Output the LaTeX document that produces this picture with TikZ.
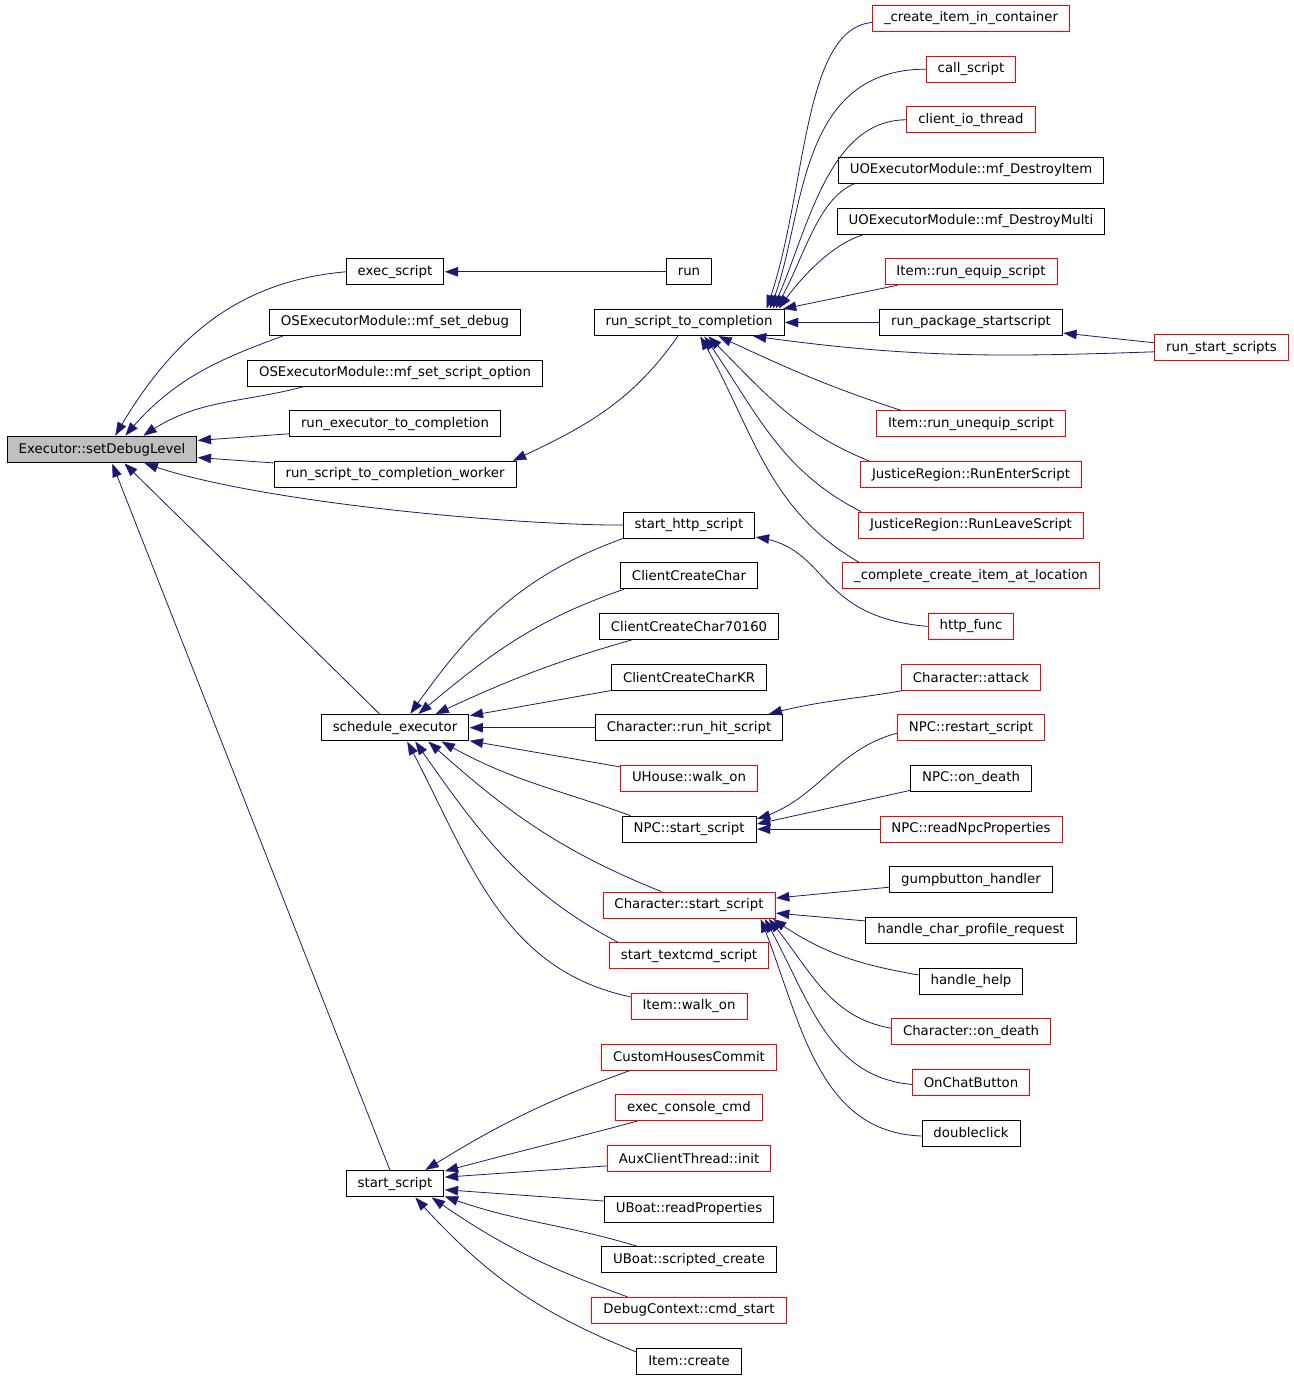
\documentclass[tikz,border=0pt]{standalone}
\usepackage{fontspec}
\setmainfont{DejaVu Sans}
\usepackage{tikz}
\usetikzlibrary{positioning, calc, arrows.meta, decorations.markings}
\definecolor{EdgeBlue}{HTML}{191970}
\definecolor{RootGrey}{HTML}{BFBFBF}
\definecolor{TruncRed}{HTML}{FF0000}
\tikzstyle{Call} = [
draw=EdgeBlue, line width=0.8pt,
decoration={
markings,
mark=at position 0.9999 with {
\arrow[color=EdgeBlue]{Triangle[length=14pt,width=10pt,color=EdgeBlue,fill=EdgeBlue]}}},
shorten >= 3pt, preaction = {decorate}]
\tikzstyle{Func} = [draw=black, fill=white, line width=0.9pt, minimum height=26pt,
inner xsep=11.5pt, inner ysep=0pt, font=\fontsize{13.3}{16}\selectfont]
\tikzstyle{Trunc} = [Func, draw=TruncRed]
\tikzstyle{Root} = [Func, fill=RootGrey]

\begin{document}
\begin{tikzpicture}[x=1pt, y=1pt]
    \path [use as bounding box, fill=white] (0,0) rectangle (1293,-1380);

    \node [Root](1) at (102,-449.5){Executor::setDebugLevel};
    \node [Func](2) at (395,-271.8){exec\_script};
    \node [Func](3) at (395,-322.5){OSExecutorModule::mf\_set\_debug};
    \node [Func](4) at (395,-373.1){OSExecutorModule::mf\_set\_script\_option};
    \node [Func](5) at (395,-423.8){run\_executor\_to\_completion};
    \node [Func](6) at (395,-474.4){run\_script\_to\_completion\_worker};
    \node [Func](7) at (395,-727.7){schedule\_executor};
    \node [Func](8) at (395,-1183.7){start\_script};

    \node [Func](9) at (689,-271.8){run};
    \node [Func](10) at (689,-322.5){run\_script\_to\_completion};
    \node [Func](11) at (689,-525.1){start\_http\_script};
    \node [Func](12) at (689,-575.8){ClientCreateChar};
    \node [Func](13) at (689,-626.4){ClientCreateChar70160};
    \node [Func](14) at (689,-677.1){ClientCreateCharKR};
    \node [Func](15) at (689,-727.7){Character::run\_hit\_script};
    \node [Trunc](16) at (689,-778.4){UHouse::walk\_on};
    \node [Func](17) at (689,-829.1){NPC::start\_script};
    \node [Trunc](18) at (689,-905.1){Character::start\_script};
    \node [Trunc](19) at (689,-955.7){start\_textcmd\_script};
    \node [Trunc](20) at (689,-1006.4){Item::walk\_on};
    \node [Trunc](21) at (689,-1057.0){CustomHousesCommit};
    \node [Trunc](22) at (689,-1107.7){exec\_console\_cmd};
    \node [Trunc](23) at (689,-1158.4){AuxClientThread::init};
    \node [Func](24) at (689,-1209.0){UBoat::readProperties};
    \node [Func](25) at (689,-1259.7){UBoat::scripted\_create};
    \node [Trunc](26) at (689,-1310.3){DebugContext::cmd\_start};
    \node [Func](27) at (689,-1361.0){Item::create};

    \node [Trunc](28) at (971,-18.5){\_create\_item\_in\_container};
    \node [Trunc](29) at (971,-69.2){call\_script};
    \node [Trunc](30) at (971,-119.8){client\_io\_thread};
    \node [Func](31) at (971,-170.5){UOExecutorModule::mf\_DestroyItem};
    \node [Func](32) at (971,-221.1){UOExecutorModule::mf\_DestroyMulti};
    \node [Trunc](33) at (971,-271.8){Item::run\_equip\_script};
    \node [Func](34) at (971,-322.5){run\_package\_startscript};
    \node [Trunc](35) at (971,-423.8){Item::run\_unequip\_script};
    \node [Trunc](36) at (971,-474.4){JusticeRegion::RunEnterScript};
    \node [Trunc](37) at (971,-525.1){JusticeRegion::RunLeaveScript};
    \node [Trunc](38) at (971,-575.8){\_complete\_create\_item\_at\_location};
    \node [Trunc](39) at (971,-626.4){http\_func};
    \node [Trunc](40) at (971,-677.1){Character::attack};
    \node [Trunc](41) at (971,-727.7){NPC::restart\_script};
    \node [Func](42) at (971,-778.4){NPC::on\_death};
    \node [Trunc](43) at (971,-829.1){NPC::readNpcProperties};
    \node [Func](44) at (971,-879.7){gumpbutton\_handler};
    \node [Func](45) at (971,-930.4){handle\_char\_profile\_request};
    \node [Func](46) at (971,-981.0){handle\_help};
    \node [Trunc](47) at (971,-1031.7){Character::on\_death};
    \node [Trunc](48) at (971,-1082.4){OnChatButton};
    \node [Func](49) at (971,-1133.0){doubleclick};
    \node [Trunc](50) at (1221.5,-347.8){run\_start\_scripts};

    \draw [Call] (2.west) to [out=185, in=60] ($(1.north)+(13,0)$);
    \draw [Call] ($(3.south west)+(14,0)$) to [out=200, in=50] ($(1.north)+(23,0)$);
    \draw [Call] ($(4.south west)+(57,0)$) to [out=195, in=35] ($(1.north)+(41,0)$);
    \draw [Call] ($(5.west)+(0,-10)$) -- ($(1.east)+(0,9)$);
    \draw [Call] ($(6.north west)+(0,-2)$) -- ($(1.east)+(0,-8)$);
    \draw [Call] (11.west) to [out=180, in=-20, looseness=0.6] ($(1.south)+(42,0)$);
    \draw [Call] ($(7.north west)+(59,0)$) -- ($(1.south)+(22,0)$);
    \draw [Call] ($(8.north)+(-5,0)$) -- ($(1.south)+(10,0)$);

    \draw [Call] (9.west) -- (2.east);
    \draw [Call] ($(10.south)+(-11,0)$) to [out=235, in=25] ($(6.north east)+(-4,0)$);

    \draw [Call] ($(28.west)+(0,-4)$) to [out=185, in=70, out looseness=0.6, in looseness=1.0] ($(10.north east)+(-18,0)$);
    \draw [Call] (29.west) to [out=180, in=66, out looseness=1.2, in looseness=0.8] ($(10.north east)+(-15,0)$);
    \draw [Call] (30.west) to [out=180, in=64, out looseness=0.9, in looseness=0.85] ($(10.north east)+(-12,0)$);
    \draw [Call] ($(31.south west)+(16,0)$) to [out=203, in=60, out looseness=0.7] ($(10.north east)+(-9,0)$);
    \draw [Call] ($(32.south west)+(27,0)$) to [out=197, in=55, looseness=0.8] ($(10.north east)+(-6,0)$);
    \draw [Call] ($(33.south west)+(13,0)$) -- ($(10.north east)+(-2,0)$);
    \draw [Call] (34.west) -- (10.east);
    \draw [Call] ($(50.west)+(0,-4)$) to [out=182, in=-8] ($(10.south east)+(-32,0)$);
    \draw [Call] ($(50.west)+(0,5)$) -- ($(34.east)+(0,-10.5)$);
    \draw [Call] ($(35.north west)+(25,0)$) to [out=162, in=-25] ($(10.south)+(29,0)$);
    \draw [Call] ($(36.north west)+(9,0)$) to [out=158, in=-45] ($(10.south)+(19,0)$);
    \draw [Call] ($(37.north west)+(3,0)$) to [out=153, in=-55] ($(10.south)+(15,0)$);
    \draw [Call] ($(38.north west)+(17,0)$) to [out=150, in=-60] ($(10.south)+(11,0)$);

    \draw [Call] (39.west) to [out=175, in=-8, out looseness=1.5] ($(11.east)+(0,-12)$);

    \draw [Call] (11.south west) to [out=200, in=55] ($(7.north)+(15,0)$);
    \draw [Call] ($(12.south west)+(4,0)$) to [out=199, in=40] ($(7.north)+(23,0)$);
    \draw [Call] ($(13.south west)+(33,0)$) to [out=196, in=25] ($(7.north)+(40,0)$);
    \draw [Call] (14.south west) to [out=190, in=10] ($(7.north east)+(0,-1.5)$);
    \draw [Call] (15.west) -- (7.east);
    \draw [Call] ($(16.north west)+(0,-2)$) to [out=170, in=-10] ($(7.east)+(0,-13)$);
    \draw [Call] ($(17.north west)+(9,0)$) to [out=160, in=-30] ($(7.south east)+(-28,0)$);
    \draw [Call] ($(18.north west)+(59,0)$) to [out=158, in=-42] ($(7.south)+(33,0)$);
    \draw [Call] ($(19.north west)+(9,0)$) to [out=152, in=-55] ($(7.south)+(20,0)$);
    \draw [Call] ($(20.west)+(0,9.5)$) to [out=168, in=-62] ($(7.south)+(12,0)$);

    \draw [Call] ($(40.south west)+(2,0)$) to [out=190, in=15] ($(15.north east)+(-15,0)$);

    \draw [Call] ($(41.west)+(0,-5.5)$) to [out=195, in=17] ($(17.east)+(0,10)$);
    \draw [Call] ($(42.west)+(0,-12)$) -- ($(17.east)+(0,5)$);
    \draw [Call] (43.west) -- (17.east);

    \draw [Call] ($(44.west)+(0,-7.5)$) -- ($(18.east)+(0,7)$);
    \draw [Call] ($(45.west)+(0,9.5)$) -- ($(18.east)+(0,-8)$);
    \draw [Call] ($(46.west)+(0,6)$) to [out=170, in=-35] ($(18.south east)+(-3,0)$);
    \draw [Call] ($(47.west)+(0,3.5)$) to [out=170, in=-50] ($(18.south east)+(-7,0)$);
    \draw [Call] ($(48.west)+(0,-2)$) to [out=175, in=-60] ($(18.south east)+(-11,0)$);
    \draw [Call] ($(49.west)+(0,-3)$) to [out=178, in=-68] ($(18.south east)+(-15,0)$);

    \draw [Call] ($(21.south west)+(29,0)$) to [out=200, in=32] ($(8.north)+(30,0)$);
    \draw [Call] ($(22.south west)+(22,0)$) to [out=195, in=15] ($(8.north east)+(0,-1)$);
    \draw [Call] ($(23.west)+(0,-7.5)$) -- ($(8.east)+(0,6.5)$);
    \draw [Call] ($(24.west)+(0,8)$) -- ($(8.east)+(0,-6)$);
    \draw [Call] ($(25.north west)+(36,0)$) to [out=163, in=-20] ($(8.east)+(0,-12.5)$);
    \draw [Call] ($(26.north west)+(36,0)$) to [out=160, in=-35] ($(8.south east)+(-13,0)$);
    \draw [Call] ($(27.west)+(0,9)$) to [out=158, in=-48] ($(8.south)+(20,0)$);
\end{tikzpicture}
\end{document}
